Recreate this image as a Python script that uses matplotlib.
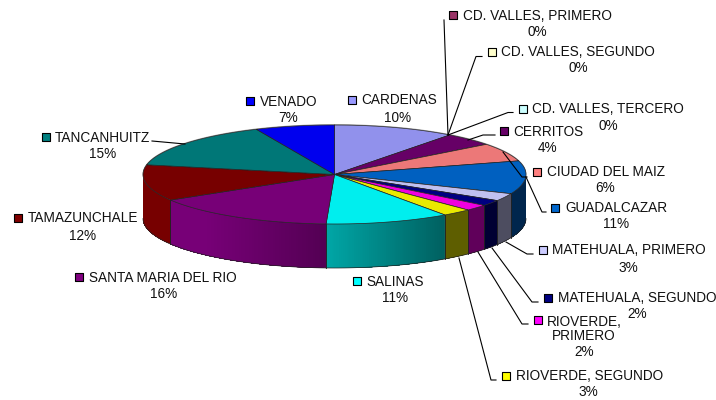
import numpy as np
import matplotlib
matplotlib.use("Agg")
import matplotlib.pyplot as plt

plt.rcParams['font.family'] = ['Liberation Sans', 'DejaVu Sans']

names = ["CARDENAS", "CD. VALLES, PRIMERO", "CD. VALLES, SEGUNDO", "CD. VALLES, TERCERO",
         "CERRITOS", "CIUDAD DEL MAIZ", "GUADALCAZAR", "MATEHUALA, PRIMERO",
         "MATEHUALA, SEGUNDO", "RIOVERDE,\nPRIMERO", "RIOVERDE, SEGUNDO", "SALINAS",
         "SANTA MARIA DEL RIO", "TAMAZUNCHALE", "TANCANHUITZ", "VENADO"]
values = [10.3, 0.0, 0.0, 0.0, 4.3, 6.0, 10.8, 2.5, 1.9, 2.0, 2.5, 10.5, 15.7, 11.8, 15.2, 6.7]
percents = ["10%", "0%", "0%", "0%", "4%", "6%", "11%", "3%", "2%", "2%", "3%", "11%", "16%", "12%", "15%", "7%"]
colors = ["#9191EC", "#993366", "#FFFFCC", "#CCFFFF", "#660066", "#EC7878", "#0060C0", "#C0C0F0",
          "#000080", "#F000E0", "#EAEA00", "#00EEEE", "#770077", "#770000", "#007777", "#0000EE"]
key_colors = ["#9999FF", "#993366", "#FFFFCC", "#CCFFFF", "#660066", "#FF8080", "#0066CC", "#CCCCFF",
              "#000080", "#FF00FF", "#FFFF00", "#00FFFF", "#800080", "#800000", "#008080", "#0000FF"]

# label layout in pixels: key x, key y, text left, percent x, percent y
key_x = [352, 453, 492, 523, 504, 537, 555, 543, 548, 538, 506, 357, 79, 18, 46, 250]
key_y = [100, 15, 52, 108.5, 131, 172, 208, 250, 298, 320, 376, 281, 277, 218, 137, 101]
text_x = [361, 463, 501, 532, 513, 547, 565, 552, 558, 547, 516, 366, 89, 28, 55, 260]
pct_x = [398, 537, 578, 608, 548, 605, 616, 628, 637, 584, 588, 395, 164, 83, 103, 288]
pct_y = [117, 31, 68, 125, 147, 188, 223, 267, 314, 352, 392, 298, 293, 236, 154, 117]

leaders = [
    [(444, 20), (448, 135)],
    [(482, 56.5), (476, 56.5), (448, 135)],
    [(513, 112.5), (508, 112.5), (448, 135)],
    [(495, 135), (483, 135), (468, 140)],
    [(527, 177), (522, 177), (503, 152)],
    [(546, 212), (542, 212), (526, 177)],
    [(533, 254), (527, 254), (506, 242)],
    [(538, 302), (532, 302), (492, 248)],
    [(528, 324), (522, 324), (478, 252)],
    [(496, 380), (491, 380), (459, 258)],
    [(152, 141), (185, 144)],
]

cx, cy, rx, ry, depth = 334.5, 174.5, 191.5, 49.5, 44

fig = plt.figure(figsize=(7.16, 4), dpi=100)
ax = fig.add_axes([0, 0, 1, 1])
ax.set_xlim(0, 716)
ax.set_ylim(400, 0)
ax.axis('off')


def px(t):
    return cx + rx * np.sin(t)


def py(t):
    return cy - ry * np.cos(t)


def shade(col, x):
    f = np.clip(0.68 - 0.48 * x, 0.4, 1.0)
    return tuple(c * f for c in matplotlib.colors.to_rgb(col))


edges = np.cumsum([0] + values) / sum(values) * 2 * np.pi

# side wall, only the front half shows
for i in range(len(values)):
    a = max(edges[i], np.pi / 2)
    b = min(edges[i + 1], 3 * np.pi / 2)
    if b <= a:
        continue
    tt = np.linspace(a, b, max(2, int((b - a) * 90)))
    for k in range(len(tt) - 1):
        t0, t1 = tt[k], tt[k + 1]
        # each strip reaches to the slice end, the next one paints over it
        tm = np.linspace(t0, b, 30)
        xs = np.r_[px(tm), px(tm)[::-1]]
        ys = np.r_[py(tm), py(tm)[::-1] + depth]
        c = shade(colors[i], np.sin((t0 + t1) / 2))
        ax.fill(xs, ys, facecolor=c, edgecolor='none', zorder=2)
    tb = np.linspace(a, b, 60)
    ax.plot(px(tb), py(tb) + depth, color="#222222", lw=0.5, zorder=3)
    if edges[i] >= np.pi / 2:
        ax.plot([px(a), px(a)], [py(a), py(a) + depth], color="#222222", lw=0.5, zorder=3)
    if edges[i + 1] <= 3 * np.pi / 2:
        ax.plot([px(b), px(b)], [py(b), py(b) + depth], color="#222222", lw=0.5, zorder=3)

# top face
for i in range(len(values)):
    if values[i] == 0:
        continue
    tt = np.linspace(edges[i], edges[i + 1], 80)
    xs = np.r_[cx, px(tt)]
    ys = np.r_[cy, py(tt)]
    ax.fill(xs, ys, facecolor=colors[i], edgecolor="#222222", lw=0.5, zorder=4)

# outer rim
tt = np.linspace(0, 2 * np.pi, 300)
ax.plot(px(tt), py(tt) - 0.5, color="#999999", lw=0.5, zorder=3.5)

for pts in leaders:
    ax.plot([p[0] for p in pts], [p[1] for p in pts], color="black", lw=0.8, zorder=5)

for i, name in enumerate(names):
    ax.scatter(key_x[i], key_y[i], s=26, marker='s', color=key_colors[i],
               edgecolors="black", linewidths=0.8, zorder=6)
    lines = name.split("\n")
    fs = 9.85
    if len(lines) == 2:
        ax.text(pct_x[i], key_y[i] + 2.5, lines[0], ha='center', va='center', fontsize=fs, color="#111111", zorder=6)
        ax.text(pct_x[i], key_y[i] + 16.5, lines[1], ha='center', va='center', fontsize=fs, color="#111111", zorder=6)
    else:
        ax.text(text_x[i], key_y[i] + 0.5, name, ha='left', va='center', fontsize=fs, color="#111111", zorder=6)
    ax.text(pct_x[i], pct_y[i] + 0.5, percents[i], ha='center', va='center', fontsize=fs, color="#111111", zorder=6)

fig.savefig("out.png", dpi=100)
